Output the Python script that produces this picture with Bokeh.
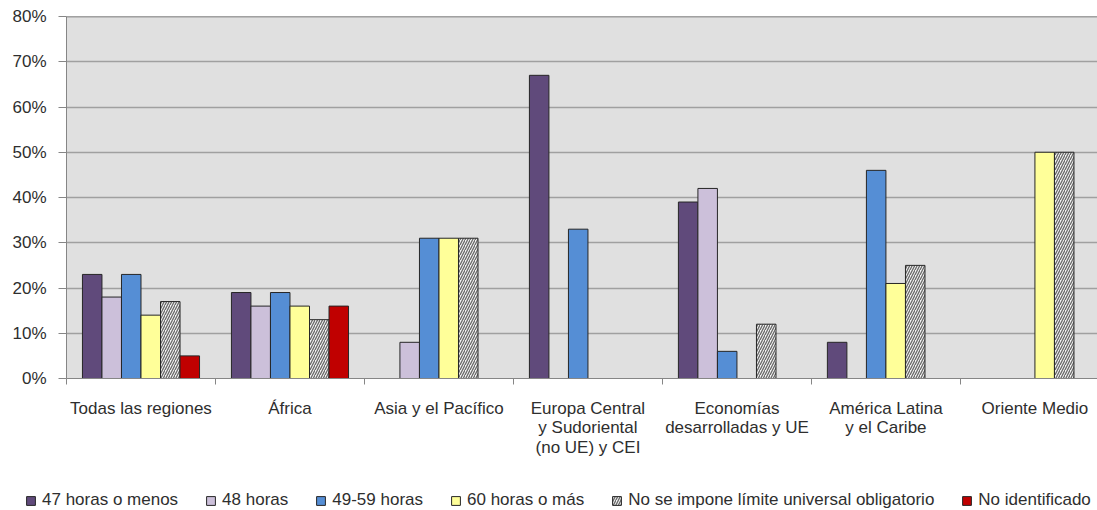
import numpy as np
from bokeh.plotting import figure
from bokeh.models import Range1d, FixedTicker, Legend, LegendItem, Span
from bokeh.embed import file_html
from bokeh.resources import INLINE

categories = ["Todas las regiones", "África", "Asia y el Pacífico",
              "Europa Central\ny Sudoriental\n(no UE) y CEI",
              "Economías\ndesarrolladas y UE",
              "América Latina\ny el Caribe", "Oriente Medio"]

series_names = ["47 horas o menos", "48 horas", "49-59 horas", "60 horas o más",
                "No se impone límite universal obligatorio", "No identificado"]

s_47 = [23, 19, None, 67, 39, 8, None]
s_48 = [18, 16, 8, None, 42, None, None]
s_49_59 = [23, 19, 31, 33, 6, 46, None]
s_60 = [14, 16, 31, None, None, 21, 50]
s_nolimit = [17, 13, 31, None, 12, 25, 50]
s_noid = [5, 16, None, None, None, None, None]

y_ticks = [0, 10, 20, 30, 40, 50, 60, 70, 80]
y_tick_labels = ["0%", "10%", "20%", "30%", "40%", "50%", "60%", "70%", "80%"]

series = [s_47, s_48, s_49_59, s_60, s_nolimit, s_noid]
colors = ["#604A7B", "#CCC0DA", "#558ED5", "#FFFF99", "#F4F4F4", "#C00000"]
hatches = [None, None, None, None, "/", None]

FONT = "Liberation Sans"
TXT = "#2E2E2E"
FS = "17px"

p = figure(width=1097, height=470, output_backend="svg", toolbar_location=None,
           x_range=Range1d(0, 6.92), y_range=Range1d(0, 80),
           min_border_left=66, min_border_right=0, min_border_top=16,
           min_border_bottom=92)
p.background_fill_color = "#E0E0E0"
p.border_fill_color = "white"
p.outline_line_color = None

# legend strip below the chart (separate root so its frame spans the full width)
lg = figure(width=1097, height=40, output_backend="svg", toolbar_location=None,
            x_range=Range1d(0, 1), y_range=Range1d(0, 1),
            x_axis_location=None, y_axis_location=None,
            min_border=0, min_border_left=0, min_border_right=0,
            min_border_top=0, min_border_bottom=0)
lg.grid.visible = False
lg.outline_line_color = None
lg.background_fill_color = "white"
lg.border_fill_color = "white"

n = len(series)
bw = 0.131
centers = np.arange(len(categories)) + 0.5
legend_renderers = []
for i, vals in enumerate(series):
    top = np.array([np.nan if v is None else v for v in vals], dtype=float)
    x = centers + (i - (n - 1) / 2) * bw
    style = dict(fill_color=colors[i], line_color="#262626", line_width=1)
    if hatches[i]:
        style.update(hatch_pattern=hatches[i], hatch_color="#6A6A6A",
                     hatch_scale=5, hatch_weight=1.3)
    p.vbar(x=x, top=top, bottom=0, width=bw, **style)
    # proxy renderer (outside the visible range) used only for the legend swatch
    r = lg.vbar(x=[5.0], top=[5.0], bottom=4.0, width=0.1, **style)
    legend_renderers.append(r)

# axes
p.yaxis.ticker = FixedTicker(ticks=y_ticks)
p.yaxis.major_label_overrides = {t: l for t, l in zip(y_ticks, y_tick_labels)}
p.yaxis.major_tick_out = 8
p.yaxis.major_tick_in = 0
p.yaxis.minor_tick_line_color = None
p.yaxis.axis_line_color = "#868686"
p.yaxis.major_tick_line_color = "#868686"
p.yaxis.major_label_standoff = 12
p.yaxis.major_label_text_font = FONT
p.yaxis.major_label_text_font_size = FS
p.yaxis.major_label_text_color = TXT

p.xaxis.ticker = FixedTicker(ticks=list(centers), minor_ticks=list(range(len(categories) + 1)))
p.xaxis.major_label_overrides = {float(c): l for c, l in zip(centers, categories)}
p.xaxis.major_tick_line_color = None
p.xaxis.major_tick_out = 0
p.xaxis.major_tick_in = 0
p.xaxis.minor_tick_out = 6
p.xaxis.minor_tick_in = 0
p.xaxis.minor_tick_line_color = "#868686"
p.xaxis.axis_line_color = "#868686"
p.xaxis.major_label_standoff = 14
p.xaxis.major_label_text_font = FONT
p.xaxis.major_label_text_font_size = FS
p.xaxis.major_label_text_color = TXT
p.xaxis.major_label_text_line_height = 1.05

p.xgrid.visible = False
p.ygrid.ticker = FixedTicker(ticks=y_ticks)
p.ygrid.grid_line_color = "#A0A0A0"
p.ygrid.grid_line_width = 1.5
p.add_layout(Span(location=80, dimension="width", line_color="#555555", line_width=1.5))

legend = Legend(items=[LegendItem(label=nm, renderers=[r]) for nm, r in zip(series_names, legend_renderers)],
                orientation="horizontal", location=(25, 0),
                glyph_width=11, glyph_height=11, label_standoff=6, spacing=27,
                padding=0, margin=0, label_height=18,
                label_text_font=FONT, label_text_font_size=FS,
                label_text_color=TXT, background_fill_alpha=0,
                border_line_color=None)
lg.add_layout(legend, "center")

open("out.html", "w").write(file_html([p, lg], INLINE))
